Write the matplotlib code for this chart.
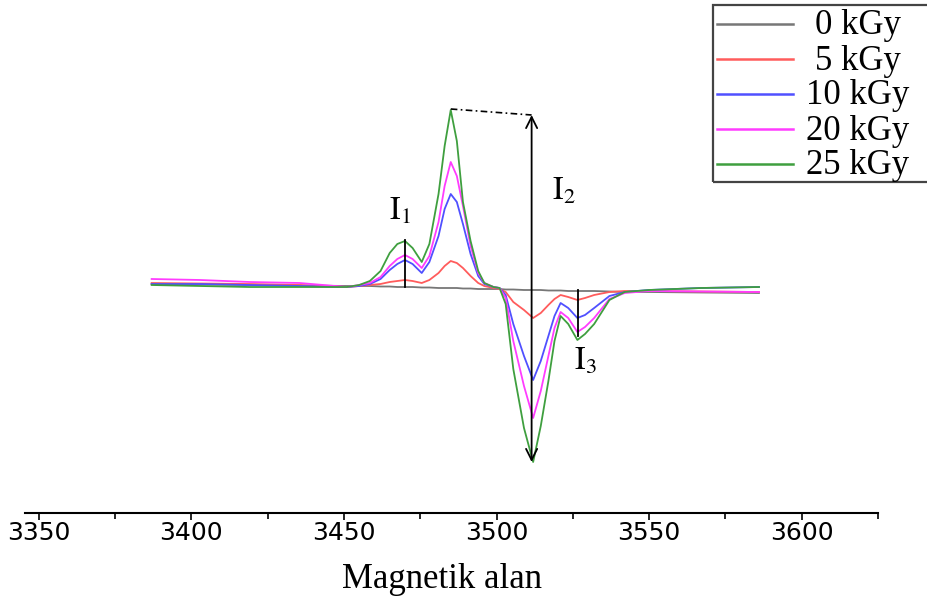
import matplotlib.pyplot as plt
from matplotlib.lines import Line2D
from matplotlib.patches import Rectangle
from matplotlib.ticker import MultipleLocator

plt.rcParams["mathtext.fontset"] = "stix"

# magnetic field (G) and ESR signal (arbitrary units)
field = [3387, 3403, 3419, 3435.5, 3451, 3455, 3458.5, 3462, 3465, 3467.5,
         3470, 3472.5, 3475.5, 3478, 3481, 3483, 3485, 3487, 3489, 3491.5,
         3494, 3496, 3499, 3501, 3503, 3505.5, 3509, 3512, 3514.5, 3517,
         3519, 3521, 3523.5, 3526.5, 3529, 3532, 3537, 3542, 3550, 3567, 3586]

dose_0 = [2, 1.5, 1, 0.5, 0, 0, 0, -0.5, -0.5, -1,
          -1, -1, -1.5, -1.5, -2, -2, -2, -2, -2.5, -2.5,
          -3, -3, -3, -3, -3.5, -3.5, -4, -4, -4, -4.5,
          -4.5, -4.5, -5, -5, -5, -5, -5.5, -6, -6, -6.5, -7]
dose_5 = [3, 2.5, 2, 1, -1, 0, 1, 2, 4, 5,
          6, 5, 3, 6, 13, 20, 25, 23, 18, 10,
          3, 0, -2, -3, -6, -16, -24, -32, -27, -19,
          -13, -9, -11, -14, -12, -9, -6, -5, -5, -5.5, -6]
dose_10 = [2, 2, 1, 0, -1, 0, 2, 7, 16, 22,
           26, 22, 13, 24, 50, 77, 92, 84, 62, 32,
           10, 2, -1, -2, -9, -38, -70, -94, -75, -50,
           -30, -17, -22, -32, -29, -22, -10, -6, -4, -2, -1]
dose_20 = [7, 6, 4, 3, -1, 1, 3, 9, 20, 27,
           31, 27, 18, 30, 64, 100, 124, 110, 80, 40,
           13, 3, -1, -2, -12, -55, -100, -132, -105, -70,
           -42, -26, -32, -46, -41, -32, -13, -7, -5, -5.5, -6]
dose_25 = [1, 0, -1, -1, -1, 1, 5, 15, 33, 42,
           45, 38, 24, 42, 92, 140, 176, 145, 84, 45,
           15, 3, -1, -2, -18, -83, -142, -176, -140, -95,
           -55, -30, -38, -54, -48, -38, -14, -6, -4, -2, -1]

labels = ["0 kGy", "5 kGy", "10 kGy", "20 kGy", "25 kGy"]
series = [dose_0, dose_5, dose_10, dose_20, dose_25]
colors = ["#777777", "#ff5c5c", "#5050ff", "#ff3cff", "#3f9f3f"]

# I1, I2, I3 marker positions (field, bottom, top)
i1 = (3470, -1, 46)
i2 = (3511.5, -176, 171)
i3 = (3526.8, -4, -50)

W, H = 927, 601
fig = plt.figure(figsize=(W / 100, H / 100), dpi=100)
ax = fig.add_axes([25 / W, 88 / H, 853 / W, 513 / H])

for values, color in zip(series, colors):
    ax.plot(field, values, color=color, lw=1.3)

ax.plot([i1[0], i1[0]], [i1[1], i1[2]], color="black", lw=1.3)
ax.plot([i3[0], i3[0]], [i3[1], i3[2]], color="black", lw=1.3)
ax.annotate("", xy=(i2[0], i2[2]), xytext=(i2[0], i2[1]),
            arrowprops=dict(arrowstyle="<->", color="black", lw=1.3,
                            mutation_scale=20, shrinkA=0, shrinkB=0))
peak = max(dose_25)
ax.plot([field[dose_25.index(peak)], i2[0]], [peak + 1, i2[2]],
        color="black", lw=1.2, ls=(0, (4, 2, 1, 2)))

tkw = dict(fontsize=23, color="black", va="baseline", ha="left")
ax.text(3464.8, 66, r"$\mathrm{I}_1$", **tkw)
ax.text(3518.3, 86, r"$\mathrm{I}_2$", **tkw)
ax.text(3525.4, -84, r"$\mathrm{I}_3$", **tkw)

ax.set_xlim(3345.5, 3625)
ax.set_ylim(-227, 286)
ax.xaxis.set_major_locator(MultipleLocator(50))
ax.xaxis.set_minor_locator(MultipleLocator(25))
ax.tick_params(axis="x", which="both", direction="out", width=1.2,
               labelsize=18, pad=1)
ax.tick_params(axis="x", which="major", length=5)
ax.tick_params(axis="x", which="minor", length=4.5)
for lab in ax.get_xticklabels():
    lab.set_family(["DejaVu Sans"])
ax.set_yticks([])
for side in ["left", "right", "top"]:
    ax.spines[side].set_visible(False)
ax.spines["bottom"].set_linewidth(1.5)

ax.set_xlabel("Magnetik alan", fontsize=25,
              family=["Liberation Serif", "DejaVu Serif"])
ax.xaxis.set_label_coords((442 - 25) / 853, -0.097)

# legend box, partly cut off at the right edge like the original
fig.add_artist(Rectangle((713 / W, 1 - 182 / H), 240 / W, 177 / H,
                         transform=fig.transFigure, fill=False,
                         edgecolor="#444444", lw=1.6))
for i, (label, color) in enumerate(zip(labels, colors)):
    y = 1 - (24 + 35 * i) / H
    fig.add_artist(Line2D([717 / W, 793 / W], [y, y], color=color, lw=1.8,
                          transform=fig.transFigure))
    fig.text(858 / W, y - 2 / H, label, fontsize=25, ha="center", va="center",
             family=["Liberation Serif", "DejaVu Serif"])

fig.savefig("out.png", dpi=100)
